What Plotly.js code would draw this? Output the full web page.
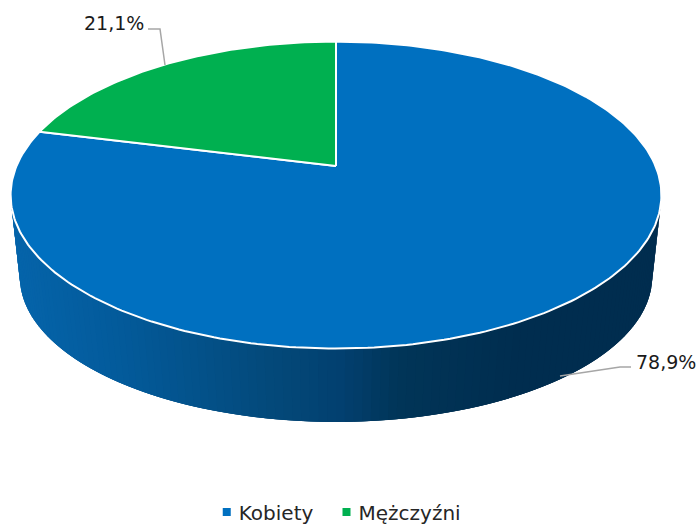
<!DOCTYPE html>
<html><head><meta charset="utf-8">
<script src="https://cdn.plot.ly/plotly-3.0.1.min.js"></script>
<style>html,body{margin:0;padding:0;background:#fff;overflow:hidden;width:698px;height:524px}#c{width:698px;height:540px}</style>
</head><body><div id="c"></div>
<script>
const categories = ['Kobiety', 'Mężczyźni'];
const values = [78.9, 21.1];
const colors = ['#0070C0', '#00B050'];
const labelAnchors = [[634, 362], [146, 23]];
const leaders = [
  {x: [560, 620, 631], y: [376, 367, 367]},
  {x: [148, 160, 165], y: [29, 29, 65]}
];
// perspective disk: screen position of a point on a unit circle, clockwise from 12 o'clock
const topFace = {cx: 336, k: 319.5, a: -116.5, b: 166, c: 0.1895};
const baseFace = {cx: 336, k: 311, a: -95.1, b: 250.9, c: 0.18};
function project(f, t) {
  const u = Math.sin(t), v = Math.cos(t), w = f.c * v + 1;
  return [f.cx + f.k * u / w, (f.a * v + f.b) / w];
}
const wallStops = [[11, [5,100,170]], [120, [3,90,154]], [280, [3,72,120]], [340, [2,64,112]], [400, [1,53,88]], [520, [0,45,79]], [661, [0,45,79]]];
function wallColor(x) {
  for (let i = 1; i < wallStops.length; i++) {
    if (x <= wallStops[i][0]) {
      const [x0, c0] = wallStops[i-1], [x1, c1] = wallStops[i];
      const f = Math.max(0, (x - x0) / (x1 - x0));
      return 'rgb(' + c0.map((c, j) => Math.round(c + (c1[j] - c) * f)).join(',') + ')';
    }
  }
  return 'rgb(0,45,79)';
}
const traces = [];
// side wall: narrow overlapping strips round the front of the disk, painted right to left
const tR = Math.PI / 2 + Math.asin(topFace.c), tL = 2 * Math.PI - tR;
const nStrips = 120;
for (let i = 0; i < nStrips; i++) {
  const t0 = tR + (tL - tR) * i / nStrips;
  const t1 = tR + (tL - tR) * Math.min(nStrips, i + 3) / nStrips;
  const tm = tR + (tL - tR) * (i + 0.5) / nStrips;
  const xs = [], ys = [], bx = [], by = [];
  for (let j = 0; j <= 6; j++) {
    const t = t0 + (t1 - t0) * j / 6;
    const a = project(topFace, t), c = project(baseFace, t);
    xs.push(a[0]); ys.push(a[1]); bx.unshift(c[0]); by.unshift(c[1]);
  }
  traces.push({type: 'scatter', mode: 'lines', x: xs.concat(bx, xs[0]), y: ys.concat(by, ys[0]),
    fill: 'toself', fillcolor: wallColor(project(topFace, tm)[0]), line: {width: 0}, showlegend: false, hoverinfo: 'skip'});
}
// top face slices, from the values
const total = values.reduce((s, v) => s + v, 0);
let start = 0;
values.forEach((val, i) => {
  const end = start + val / total * 2 * Math.PI;
  const xs = [topFace.cx], ys = [topFace.b];
  const n = Math.max(8, Math.ceil((end - start) * 60));
  for (let j = 0; j <= n; j++) {
    const p = project(topFace, start + (end - start) * j / n);
    xs.push(p[0]); ys.push(p[1]);
  }
  xs.push(topFace.cx); ys.push(topFace.b);
  traces.push({type: 'scatter', mode: 'lines', x: xs, y: ys, fill: 'toself', fillcolor: colors[i],
    line: {color: '#ffffff', width: 2}, showlegend: false, name: categories[i], hoverinfo: 'name'});
  start = end;
});
leaders.forEach(l => traces.push({type: 'scatter', mode: 'lines', x: l.x, y: l.y,
  line: {color: '#a6a6a6', width: 1.5}, showlegend: false, hoverinfo: 'skip'}));
categories.forEach((name, i) => traces.push({type: 'scatter', mode: 'markers', x: [null], y: [null], name,
  marker: {symbol: 'square', size: 8, color: colors[i]}}));
const annotations = values.map((v, i) => ({
  xref: 'x', yref: 'y', x: labelAnchors[i][0], y: labelAnchors[i][1],
  xanchor: i === 0 ? 'left' : 'right', yanchor: 'middle', showarrow: false,
  text: v.toFixed(1).replace('.', ',') + '%',
  font: {family: '"DejaVu Sans", sans-serif', size: 19, color: '#1a1a1a'}
}));
Plotly.newPlot('c', traces, {
  width: 698, height: 540, margin: {l: 0, r: 0, t: 0, b: 0},
  paper_bgcolor: '#fff', plot_bgcolor: '#fff',
  xaxis: {range: [0, 698], visible: false, fixedrange: true},
  yaxis: {range: [540, 0], visible: false, fixedrange: true},
  showlegend: true,
  legend: {orientation: 'h', x: 0.476, xanchor: 'center', y: 0.052, yanchor: 'middle',
    font: {family: '"DejaVu Sans", sans-serif', size: 20, color: '#262626'}, itemwidth: 30, bgcolor: 'rgba(0,0,0,0)'},
  annotations
}, {displayModeBar: false}).then(() => {
  document.querySelectorAll('.legend .legendpoints').forEach(el => el.setAttribute('transform', 'translate(8,0)'));
});
</script></body></html>
